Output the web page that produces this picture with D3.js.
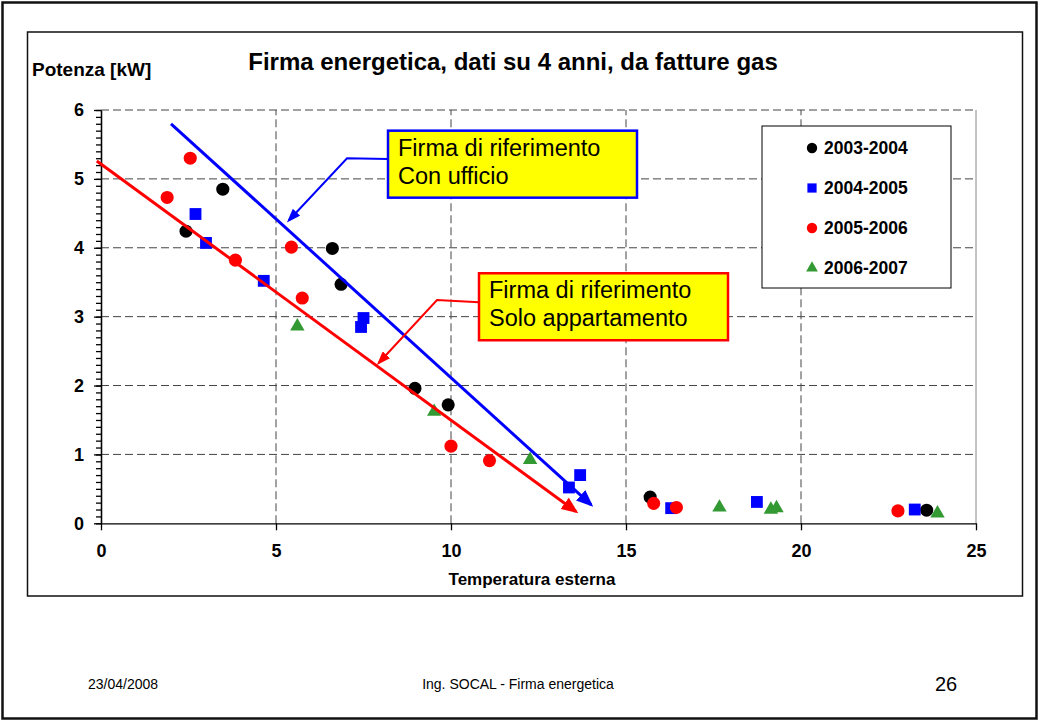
<!doctype html>
<html>
<head>
<meta charset="utf-8">
<script src="https://d3js.org/d3.v7.min.js"></script>
<style>
body {margin:0; background:#fff;}
svg text {font-family:"Liberation Sans", Arial, sans-serif;}
</style>
</head>
<body>
<svg id="slide" width="1040" height="722"></svg>
<script>
// ---- data ----
var seriesNames = ["2003-2004", "2004-2005", "2005-2006", "2006-2007"];
var s0304 = [[2.43,4.24],[3.48,4.85],[6.61,3.99],[6.86,3.47],[8.97,1.96],[9.92,1.72],[15.69,0.38],[23.59,0.19]];
var s0405 = [[2.7,4.49],[3.0,4.07],[4.65,3.52],[7.5,2.98],[7.43,2.85],[13.37,0.52],[13.69,0.70],[16.29,0.22],[18.74,0.31],[23.25,0.2]];
var s0506 = [[1.89,4.73],[2.55,5.30],[3.84,3.82],[5.44,4.01],[5.75,3.27],[10.0,1.12],[11.1,0.91],[15.79,0.29],[16.44,0.23],[22.77,0.18]];
var s0607 = [[5.61,2.86],[9.52,1.62],[12.26,0.92],[17.67,0.23],[19.14,0.2],[19.3,0.22],[23.9,0.145]];
var xTicks = [0, 5, 10, 15, 20, 25];
var yTicks = [0, 1, 2, 3, 4, 5, 6];
// reference "firma" lines (start, arrow end)
var refUfficio = [[2.0,5.8],[14.0,0.27]];
var refAppart = [[-0.12,5.26],[13.57,0.17]];
// callout leaders (box side -> elbow -> arrow tip)
var leadUfficio = [[8.2,5.29],[7.03,5.30],[5.37,4.40]];
var leadAppart = [[10.8,3.21],[9.6,3.24],[7.94,2.33]];

var svg = d3.select("#slide");

var x = d3.scaleLinear().domain([0,25]).range([101,976]);
var y = d3.scaleLinear().domain([0,6]).range([523.3,110]);

// slide border + chart frame
svg.append("rect").attr("x",2.5).attr("y",2.5).attr("width",1034).attr("height",716)
  .style("fill","none").style("stroke","#111").style("stroke-width",2.5);
svg.append("rect").attr("x",27.5).attr("y",32).attr("width",995).attr("height",564)
  .style("fill","#fff").style("stroke","#111").style("stroke-width",1.5);

// arrow markers (tip pushed a bit past the line end so it covers the stroke)
var defs = svg.append("defs");
function arrow(id, color, len, wid) {
  defs.append("marker").attr("id",id)
    .attr("markerUnits","userSpaceOnUse")
    .attr("viewBox","0 0 "+len+" "+wid)
    .attr("refX",len-3).attr("refY",wid/2)
    .attr("markerWidth",len).attr("markerHeight",wid)
    .attr("orient","auto")
    .append("path").attr("d","M0,0L"+len+","+(wid/2)+"L0,"+wid+"Z").style("fill",color);
}
arrow("bigBlue","#0000ff",17,14);
arrow("bigRed","#ff0000",17,14);
arrow("smBlue","#0000ff",14,10);
arrow("smRed","#ff0000",14,10);

// grid
var grid = svg.append("g");
grid.selectAll(".hg").data(yTicks.filter(function(d){return d>0;})).enter().append("line")
  .attr("x1",x(0)).attr("x2",x(25)).attr("y1",function(d){return y(d);}).attr("y2",function(d){return y(d);})
  .style("stroke","#444").style("stroke-dasharray","8,4");
grid.selectAll(".vg").data(xTicks.filter(function(d){return d>0 && d<25;})).enter().append("line")
  .attr("x1",function(d){return x(d);}).attr("x2",function(d){return x(d);}).attr("y1",y(0)).attr("y2",y(6))
  .style("stroke","#444").style("stroke-dasharray","8,4");
grid.append("line").attr("x1",x(25)).attr("x2",x(25)).attr("y1",y(0)).attr("y2",y(6))
  .style("stroke","#888");

// axes
var xAxis = svg.append("g").attr("transform","translate(0,"+y(0)+")")
  .call(d3.axisBottom(x).tickValues(xTicks).tickSize(7).tickSizeOuter(0).tickPadding(14).tickFormat(d3.format("d")));
var yMinor = svg.append("g").attr("transform","translate("+x(0)+",0)")
  .call(d3.axisLeft(y).tickValues(d3.range(0,61).map(function(i){return i/10;})).tickSize(5).tickSizeOuter(0).tickFormat(""));
var yAxis = svg.append("g").attr("transform","translate("+x(0)+",0)")
  .call(d3.axisLeft(y).tickValues(yTicks).tickSize(7).tickSizeOuter(0).tickPadding(10).tickFormat(d3.format("d")));
[xAxis, yAxis, yMinor].forEach(function(a){
  a.selectAll("path,line").style("stroke","#000").style("stroke-width",1.3);
  a.selectAll("text").style("font-size","18px").style("font-weight","bold").style("fill","#000")
    .style("font-family","'Liberation Sans', Arial, sans-serif");
});

// titles
svg.append("text").attr("x",513).attr("y",70).attr("text-anchor","middle")
  .style("font-size","24px").style("font-weight","bold").text("Firma energetica, dati su 4 anni, da fatture gas");
svg.append("text").attr("x",32).attr("y",76)
  .style("font-size","19px").style("font-weight","bold").text("Potenza [kW]");
svg.append("text").attr("x",532).attr("y",585).attr("text-anchor","middle")
  .style("font-size","17px").style("font-weight","bold").text("Temperatura esterna");

// points
var styles = [
  {data:s0304, type:d3.symbolCircle, size:135, color:"#000000"},
  {data:s0405, type:d3.symbolSquare, size:140, color:"#0000ff"},
  {data:s0506, type:d3.symbolCircle, size:135, color:"#ff0000"},
  {data:s0607, type:d3.symbolTriangle, size:90, color:"#339933"}
];
styles.forEach(function(s){
  svg.append("g").selectAll("path").data(s.data).enter().append("path")
    .attr("transform",function(d){return "translate("+x(d[0])+","+y(d[1])+")";})
    .attr("d",d3.symbol().type(s.type).size(s.size))
    .style("fill",s.color);
});

// legend
var leg = svg.append("g");
leg.append("rect").attr("x",762).attr("y",126).attr("width",189).attr("height",162)
  .style("fill","#fff").style("stroke","#000").style("stroke-width",1);
seriesNames.forEach(function(n,i){
  var cy = 148 + i*40;
  leg.append("path").attr("transform","translate(812,"+cy+")")
    .attr("d",d3.symbol().type(styles[i].type).size(styles[i].type===d3.symbolTriangle?60:85))
    .style("fill",styles[i].color);
  leg.append("text").attr("x",824).attr("y",cy+6)
    .style("font-size","17.5px").style("font-weight","bold").text(n);
});

// reference lines
var line = d3.line().x(function(d){return x(d[0]);}).y(function(d){return y(d[1]);});
svg.append("path").datum(refUfficio).attr("d",line)
  .style("fill","none").style("stroke","#0000ff").style("stroke-width",3).attr("marker-end","url(#bigBlue)");
svg.append("path").datum(refAppart).attr("d",line)
  .style("fill","none").style("stroke","#ff0000").style("stroke-width",3).attr("marker-end","url(#bigRed)");

// callouts
function callout(lead, color, marker, bx, by, lines) {
  svg.append("path").datum(lead).attr("d",line)
    .style("fill","none").style("stroke",color).style("stroke-width",2).attr("marker-end","url(#"+marker+")");
  svg.append("rect").attr("x",bx).attr("y",by).attr("width",249).attr("height",67)
    .style("fill","#ffff00").style("stroke",color).style("stroke-width",2.5);
  lines.forEach(function(t,i){
    svg.append("text").attr("x",bx+10).attr("y",by+25+i*28)
      .style("font-size","23.5px").style("fill","#000").text(t);
  });
}
callout(leadUfficio,"#0000ff","smBlue",x(8.2),y(5.7),["Firma di riferimento","Con ufficio"]);
callout(leadAppart,"#ff0000","smRed",x(10.8),y(3.63),["Firma di riferimento","Solo appartamento"]);

// footer
svg.append("text").attr("x",88).attr("y",689).style("font-size","14px").text("23/04/2008");
svg.append("text").attr("x",518).attr("y",689).attr("text-anchor","middle").style("font-size","14px").text("Ing. SOCAL -  Firma energetica");
svg.append("text").attr("x",946).attr("y",691).attr("text-anchor","middle").style("font-size","20px").text("26");
</script>
</body>
</html>
